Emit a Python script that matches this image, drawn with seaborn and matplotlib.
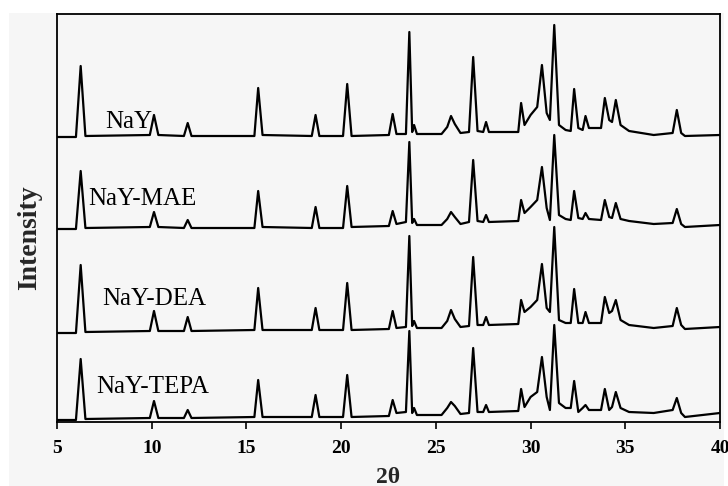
import numpy as np
import pandas as pd
import matplotlib
matplotlib.use('Agg')
import matplotlib.pyplot as plt
from matplotlib.patches import Rectangle
import seaborn as sns

# 2-theta positions of the trace vertices (shared by all samples)
two_theta = [5.0, 6.0, 6.25, 6.5, 9.9, 10.12, 10.35, 11.7, 11.9, 12.1,
             15.42, 15.62, 15.85, 18.45, 18.65, 18.85, 20.1, 20.32, 20.55, 22.52,
             22.72, 22.92, 23.42, 23.6, 23.75, 23.85, 24.0, 25.3, 25.6, 25.8,
             26.0, 26.3, 26.75, 26.97, 27.2, 27.5, 27.65, 27.8, 29.35, 29.5,
             29.68, 30.0, 30.35, 30.6, 30.85, 31.02, 31.25, 31.5, 31.85, 32.12,
             32.3, 32.52, 32.75, 32.9, 33.08, 33.72, 33.92, 34.15, 34.3, 34.5,
             34.75, 35.2, 36.5, 37.5, 37.72, 37.95, 38.15, 40.0]

# intensities (arb. units) above each sample's own baseline
nay = [0, 0, 71, 1, 2, 22, 2, 1, 14, 1,
       1, 49, 2, 1, 22, 1, 1, 53, 1, 2,
       23, 3, 3, 105, 5, 12, 3, 3, 10, 21,
       13, 4, 5, 80, 6, 5, 15, 5, 5, 34,
       12, 22, 30, 72, 24, 17, 112, 12, 7, 6,
       48, 9, 7, 21, 9, 9, 39, 17, 15, 37,
       12, 6, 2, 4, 27, 4, 1, 2]
nay_mae = [0, 0, 58, 1, 2, 17, 2, 1, 9, 1,
           1, 38, 2, 1, 22, 1, 1, 43, 2, 3,
           18, 5, 7, 87, 6, 10, 4, 4, 10, 17,
           12, 5, 7, 69, 8, 7, 14, 7, 8, 29,
           16, 22, 29, 62, 21, 9, 94, 14, 10, 9,
           38, 11, 10, 16, 10, 9, 29, 12, 11, 26,
           10, 8, 5, 6, 20, 5, 2, 4]
nay_dea = [0, 0, 68, 1, 2, 22, 2, 2, 16, 2,
           3, 45, 3, 3, 25, 3, 3, 50, 3, 4,
           22, 5, 6, 97, 7, 12, 5, 5, 12, 23,
           14, 6, 7, 76, 8, 8, 16, 8, 9, 33,
           21, 26, 33, 69, 25, 21, 106, 13, 10, 10,
           44, 10, 10, 21, 10, 10, 36, 20, 22, 33,
           13, 8, 5, 7, 25, 8, 4, 6]
nay_tepa = [0, 0, 61, 1, 2, 19, 2, 2, 10, 2,
            3, 40, 3, 3, 25, 3, 3, 45, 3, 4,
            20, 7, 8, 89, 7, 12, 5, 5, 12, 18,
            14, 6, 7, 72, 8, 8, 15, 8, 9, 31,
            13, 23, 28, 63, 23, 10, 95, 17, 12, 12,
            39, 8, 12, 15, 10, 10, 31, 10, 13, 28,
            12, 8, 7, 10, 22, 7, 3, 7]

samples = ['NaY', 'NaY-MAE', 'NaY-DEA', 'NaY-TEPA']
offsets = [285, 193, 89, 2]
label_x = [7.53, 6.64, 7.38, 7.06]
label_y = [294, 217, 117, 29]

sns.set_theme(style='ticks')
plt.rcParams['font.family'] = ['Liberation Serif', 'DejaVu Serif']

fig = plt.figure(figsize=(7.28, 4.86), dpi=100, facecolor='white')
fig.patches.append(Rectangle((9 / 728, 0), 715 / 728, 473 / 486,
                             transform=fig.transFigure, facecolor='#f6f6f6',
                             edgecolor='none', zorder=-10))
ax = fig.add_axes([57 / 728, 64 / 486, 663 / 728, 408 / 486])
ax.set_facecolor('#f6f6f6')

rows = []
for name, vals, off in zip(samples, [nay, nay_mae, nay_dea, nay_tepa], offsets):
    for t, v in zip(two_theta, vals):
        rows.append({'two_theta': t, 'intensity': v + off, 'sample': name})
df = pd.DataFrame(rows)

for name in samples:
    sub = df[df['sample'] == name]
    sns.lineplot(data=sub, x='two_theta', y='intensity', ax=ax, color='black',
                 linewidth=1.6, estimator=None, sort=False)

for name, lx, ly in zip(samples, label_x, label_y):
    ax.text(lx, ly, name, fontsize=18, va='baseline', ha='left', color='black')

ax.set_xlim(5, 40)
ax.set_ylim(0, 408)
ax.set_xticks([5, 10, 15, 20, 25, 30, 35, 40])
ax.set_yticks([])
ax.set_xlabel('')
ax.set_ylabel('')
ax.tick_params(axis='x', direction='out', length=5, width=1.2, pad=8,
               labelsize=14, colors='black')
for lab in ax.get_xticklabels():
    lab.set_fontweight('bold')
for sp in ax.spines.values():
    sp.set_visible(True)
    sp.set_color('black')
    sp.set_linewidth(1.3)

fig.text(388 / 728, 1 - 477 / 486, '2θ', fontsize=17, fontweight='bold',
         ha='center', va='center')
fig.text(30 / 728, 1 - 238 / 486, 'Intensity', fontsize=20, fontweight='bold',
         ha='center', va='center', rotation=90)

fig.savefig('out.png', dpi=100, facecolor=fig.get_facecolor())
